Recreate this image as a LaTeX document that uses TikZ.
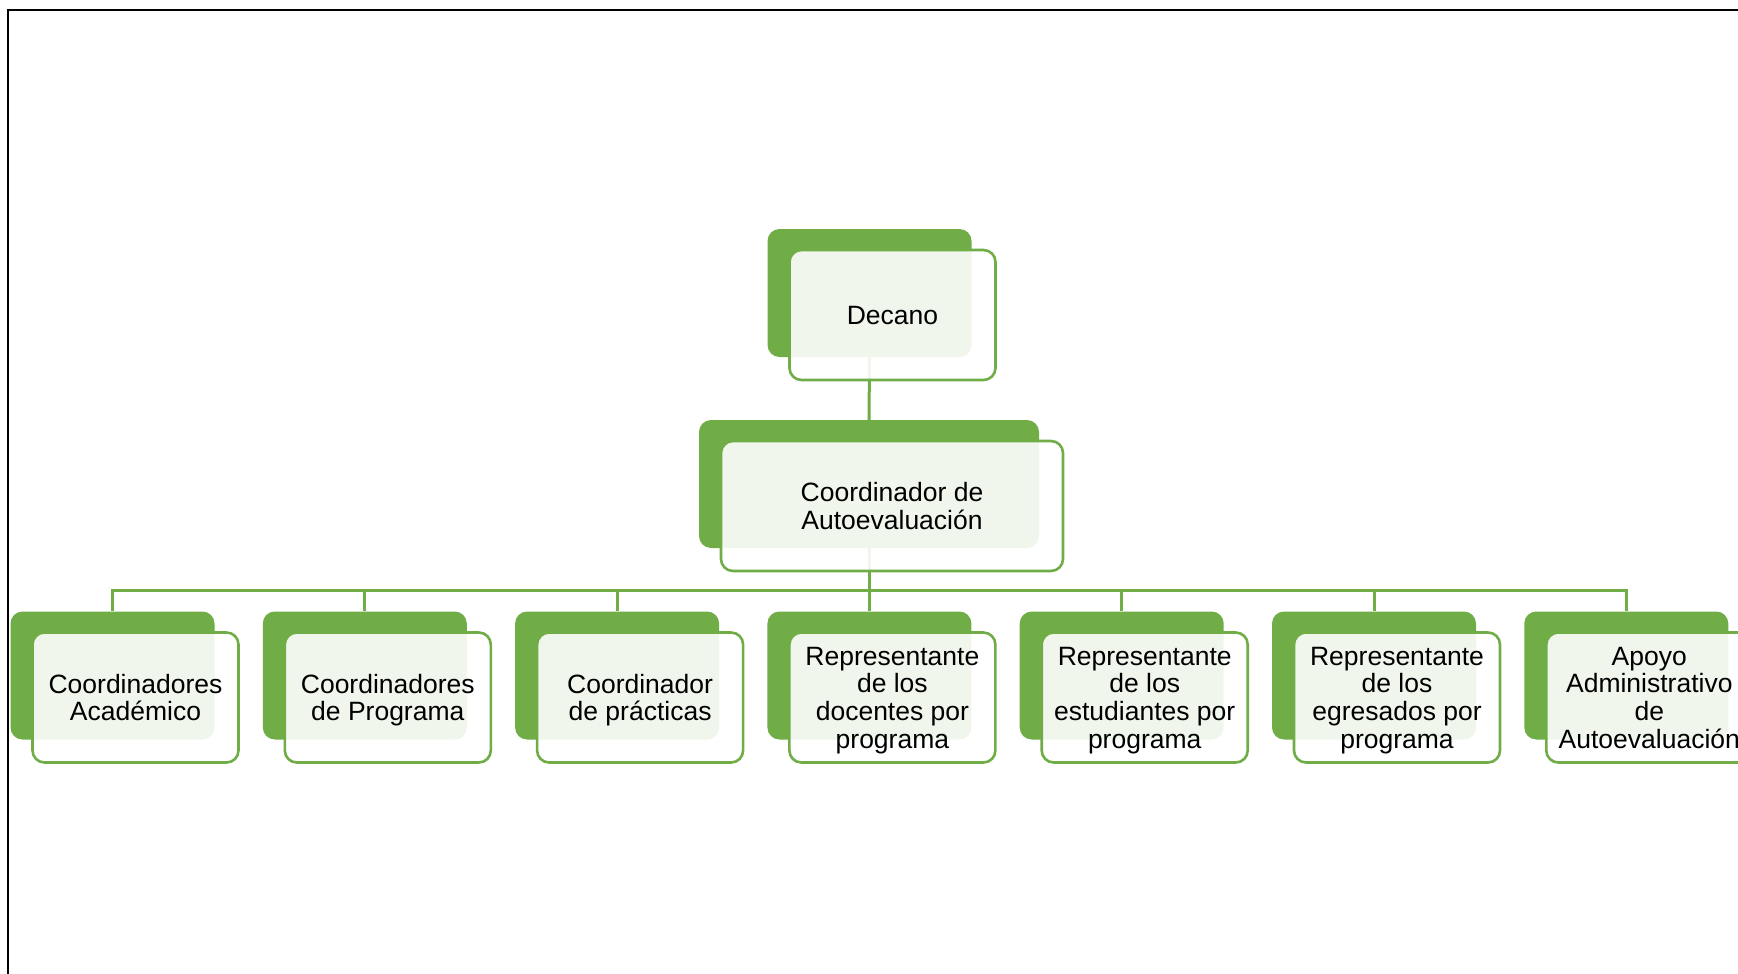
\documentclass[tikz,border=0pt]{standalone}
\usepackage{fontspec}
\setmainfont{Liberation Sans}
\usetikzlibrary{positioning}
\definecolor{officegreen}{HTML}{70AD47}
\tikzset{
    backbox/.style={
    rectangle,rounded corners=12pt,fill=officegreen,minimum width=204pt,minimum height=128pt,inner sep=0pt
    },
    frontbox/.style={
    rectangle,rounded corners=12pt,draw=officegreen,line width=2.6pt,fill=white,fill opacity=0.9,text opacity=1,
    minimum width=206pt,minimum height=130pt,inner sep=0pt,align=center,text depth=0pt,
    font=\fontsize{26.5pt}{27.7pt}\selectfont,xshift=23pt,yshift=-22pt
    },
    link/.style={
    draw=officegreen,line width=3pt
    },
    bus/.style={
    to path={-- ++(0,42) -| (\tikztotarget)}
    },
}
\begin{document}
\begin{tikzpicture}[x=1pt,y=-1pt]
   \clip (0,0) rectangle (1738,974);
   \fill[white] (0,0) rectangle (1738,974);
   \draw[black,line width=2pt] (1738,10) -- (8,10) -- (8,974);

   % green back cards
   \node[backbox] (dec) at (869.5,293) {};
   \node[backbox,minimum width=340pt] (coord) at (869,484) {};
   \node[backbox] (c1) at (112.5,675.5) {};
   \node[backbox] (c2) at (364.8,675.5) {};
   \node[backbox] (c3) at (617.1,675.5) {};
   \node[backbox] (c4) at (869.4,675.5) {};
   \node[backbox] (c5) at (1121.7,675.5) {};
   \node[backbox] (c6) at (1374,675.5) {};
   \node[backbox] (c7) at (1626.3,675.5) {};

  \path[link]
    (dec) edge (coord)
    (coord.south) edge [bus] (c1.north)
        edge [bus] (c2.north)
        edge [bus] (c3.north)
        edge [bus] (c4.north)
        edge [bus] (c5.north)
        edge [bus] (c6.north)
        edge [bus] (c7.north);

   % text cards
   \node[frontbox] (decT) at (dec) {Decano};
   \node[frontbox,minimum width=342pt] (coordT) at (coord) {Coordinador de\\Autoevaluación};
   \node[frontbox] (c1T) at (c1) {Coordinadores\\Académico};
   \node[frontbox] (c2T) at (c2) {Coordinadores\\de Programa};
   \node[frontbox] (c3T) at (c3) {Coordinador\\de prácticas};
   \node[frontbox] (c4T) at (c4) {Representante\\de los\\docentes por\\programa};
   \node[frontbox] (c5T) at (c5) {Representante\\de los\\estudiantes por\\programa};
   \node[frontbox] (c6T) at (c6) {Representante\\de los\\egresados por\\programa};
   \node[frontbox] (c7T) at (c7) {Apoyo\\Administrativo\\de\\Autoevaluación};
  \end{tikzpicture}
\end{document}
